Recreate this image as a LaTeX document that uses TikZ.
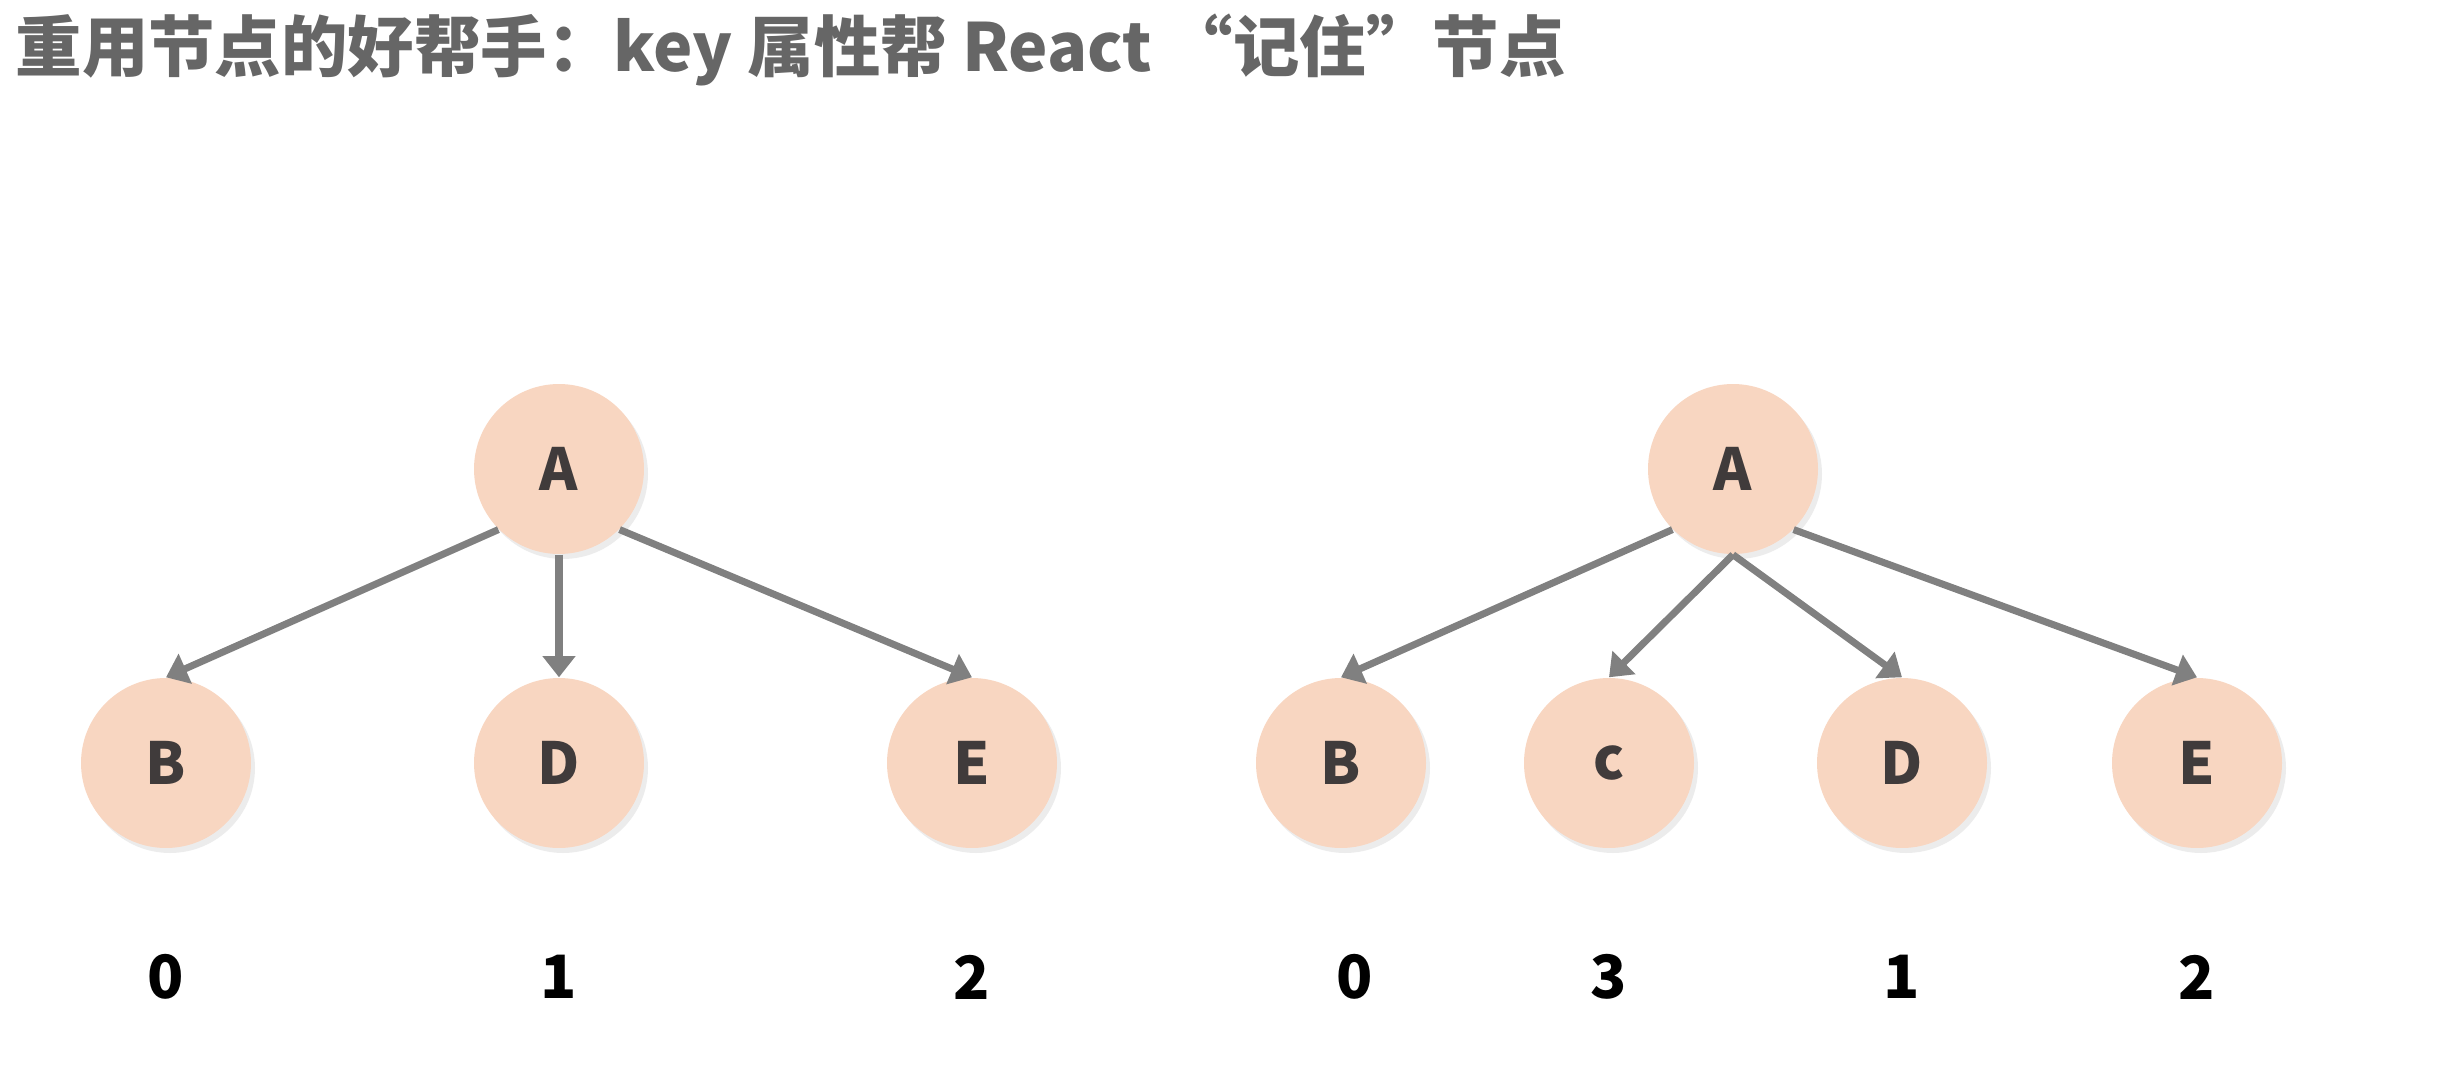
\documentclass[tikz,border=0pt]{standalone}
\usepackage{fontspec}
\setmainfont{Noto Sans CJK SC}
\usetikzlibrary{arrows.meta,shadows}
\definecolor{nodefill}{HTML}{F8D6C1}
\definecolor{linkgray}{HTML}{808080}
\definecolor{lettergray}{HTML}{403B3B}
\definecolor{titlegray}{HTML}{666666}
\tikzset{
	treenode/.style={circle, fill=nodefill, minimum size=1.7cm, inner sep=0pt,
		font=\fontsize{16.5}{16.5}\selectfont\bfseries, text=lettergray,
		drop shadow={shadow xshift=0.04cm, shadow yshift=-0.05cm, opacity=0.15}},
	link/.style={draw=linkgray, line width=2pt, -{Triangle[length=6pt,width=9pt]}},
	keylabel/.style={font=\fontsize{17}{17}\selectfont\bfseries, text=black}
}
\begin{document}
\begin{tikzpicture}
							\useasboundingbox (0,0) rectangle (24.5,-10.74);
							\node[anchor=west, inner sep=0pt, text=titlegray, font=\fontsize{18.9}{19}\selectfont\bfseries] (title) at (0.15,-0.5) {重用节点的好帮手：key 属性帮 React “记住”节点};
	
							% left tree
							\node[treenode] (A1) at (5.59,-4.69) {A};
							\node[treenode] (B1) at (1.66,-7.63) {B};
							\node[treenode] (D1) at (5.59,-7.63) {D};
							\node[treenode] (E1) at (9.72,-7.63) {E};
							\draw[link] (A1.225) -- (B1.north);
							\draw[link] (A1.south) -- (D1.north);
							\draw[link] (A1.315) -- (E1.north);
							\node[keylabel] (k0) at (1.66,-9.77) {0};
							\node[keylabel] (k1) at (5.59,-9.77) {1};
							\node[keylabel] (k2) at (9.72,-9.77) {2};
	
							% right tree
							\node[treenode] (A2) at (17.33,-4.69) {A};
							\node[treenode] (B2) at (13.41,-7.63) {B};
							\node[treenode] (C2) at (16.09,-7.63) {c};
							\node[treenode] (D2) at (19.02,-7.63) {D};
							\node[treenode] (E2) at (21.97,-7.63) {E};
							\draw[link] (A2.225) -- (B2.north);
							\draw[link] (A2.south) -- (C2.north);
							\draw[link] (A2.south) -- (D2.north);
							\draw[link] (A2.315) -- (E2.north);
							\node[keylabel] (r0) at (13.55,-9.77) {0};
							\node[keylabel] (r3) at (16.09,-9.77) {3};
							\node[keylabel] (r1) at (19.02,-9.77) {1};
							\node[keylabel] (r2) at (21.97,-9.77) {2};
						\end{tikzpicture}
\end{document}
